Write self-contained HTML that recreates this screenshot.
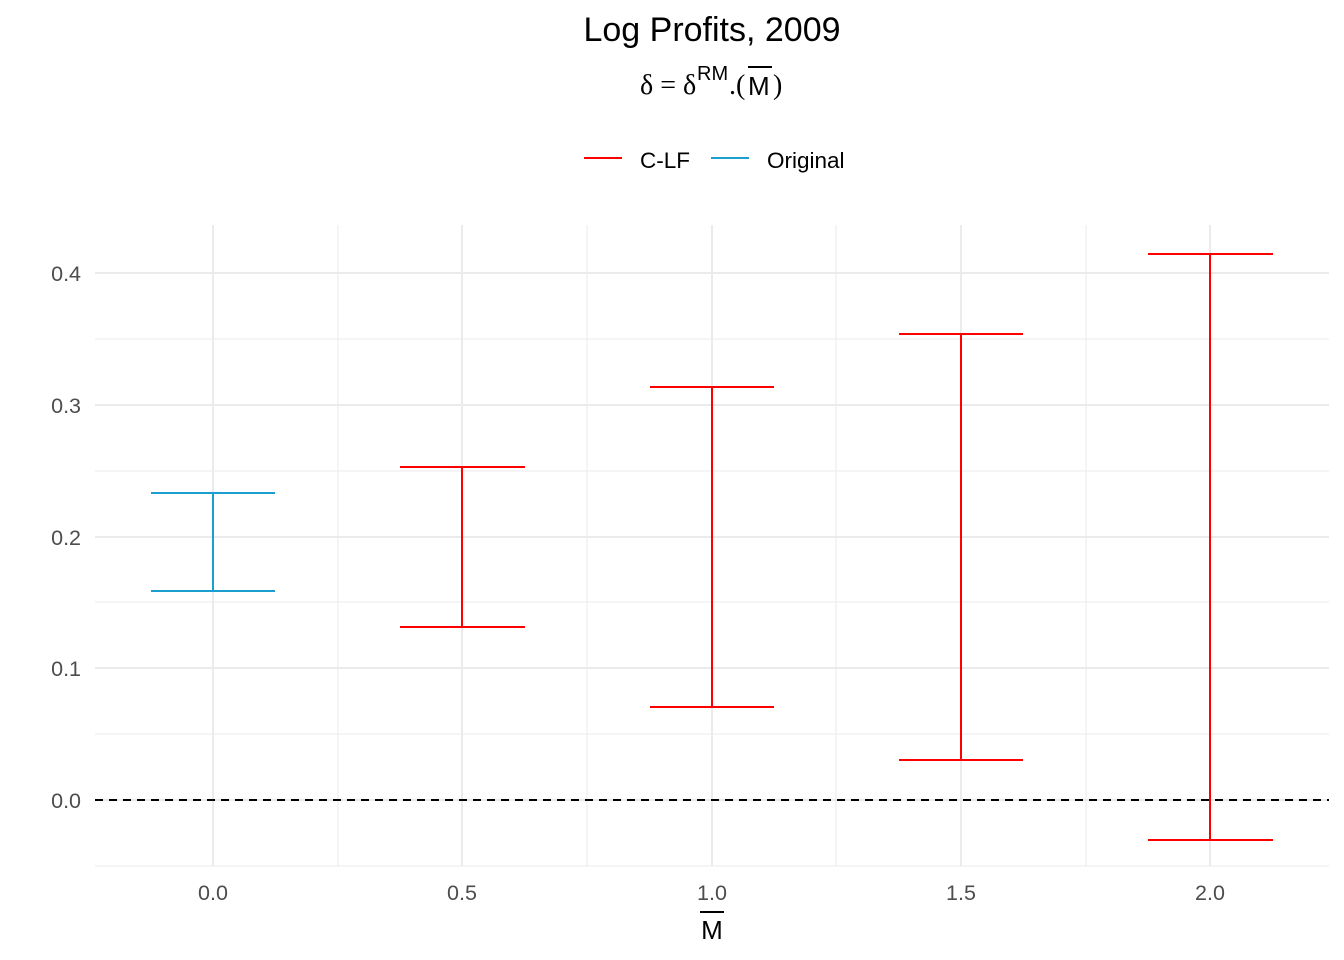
<!DOCTYPE html>
<html><head><meta charset="utf-8"><style>body{margin:0;background:#fff}svg{display:block}</style></head><body>
<svg width="1344" height="960" xmlns="http://www.w3.org/2000/svg" font-family="Liberation Sans, sans-serif">
<rect width="1344" height="960" fill="#fff"/>
<g stroke="#ebebeb" stroke-width="1">
<line x1="95" x2="1329" y1="866" y2="866"/><line x1="95" x2="1329" y1="734" y2="734"/><line x1="95" x2="1329" y1="602" y2="602"/><line x1="95" x2="1329" y1="471" y2="471"/><line x1="95" x2="1329" y1="339" y2="339"/>
<line x1="338" x2="338" y1="225" y2="866"/><line x1="587" x2="587" y1="225" y2="866"/><line x1="836" x2="836" y1="225" y2="866"/><line x1="1086" x2="1086" y1="225" y2="866"/>
</g>
<g stroke="#ebebeb" stroke-width="2">
<line x1="95" x2="1329" y1="800" y2="800"/><line x1="95" x2="1329" y1="668" y2="668"/><line x1="95" x2="1329" y1="537" y2="537"/><line x1="95" x2="1329" y1="405" y2="405"/><line x1="95" x2="1329" y1="273" y2="273"/>
<line x1="213" x2="213" y1="225" y2="866"/><line x1="462" x2="462" y1="225" y2="866"/><line x1="712" x2="712" y1="225" y2="866"/><line x1="961" x2="961" y1="225" y2="866"/><line x1="1210" x2="1210" y1="225" y2="866"/>
</g>
<line x1="95" x2="1329" y1="800" y2="800" stroke="#000" stroke-width="2" stroke-dasharray="8,6"/>
<g fill="none" stroke-width="2">
<path stroke="#1a9fd0" d="M151 493H275M151 591H275M213 493V591"/>
<path stroke="#f00" d="M400 467H525M400 627H525M462 467V627"/>
<path stroke="#f00" d="M650 387H774M650 707H774M712 387V707"/>
<path stroke="#f00" d="M899 334H1023M899 760H1023M961 334V760"/>
<path stroke="#f00" d="M1148 254H1273M1148 840H1273M1210 254V840"/>
</g>
<g fill="#4d4d4d" font-size="21.5" text-anchor="end">
<text x="81" y="808">0.0</text><text x="81" y="676">0.1</text><text x="81" y="545">0.2</text><text x="81" y="413">0.3</text><text x="81" y="281">0.4</text>
</g>
<g fill="#4d4d4d" font-size="21.5" text-anchor="middle">
<text x="213" y="900">0.0</text><text x="462" y="900">0.5</text><text x="712" y="900">1.0</text><text x="961" y="900">1.5</text><text x="1210" y="900">2.0</text>
</g>
<text x="712" y="939" font-size="26" text-anchor="middle">M</text>
<line x1="700" x2="724" y1="912" y2="912" stroke="#000" stroke-width="2"/>
<text x="712" y="41" font-size="34" text-anchor="middle">Log Profits, 2009</text>
<text x="640" y="94" font-size="28" font-family="Liberation Serif, serif">δ = δ</text>
<text x="697" y="80" font-size="20">RM</text>
<text x="729" y="94" font-size="28" font-family="Liberation Serif, serif">.(</text>
<text x="748" y="95" font-size="26">M</text>
<line x1="748" x2="772" y1="67" y2="67" stroke="#000" stroke-width="2"/>
<text x="773" y="94" font-size="28" font-family="Liberation Serif, serif">)</text>
<line x1="584" x2="622" y1="158" y2="158" stroke="#f00" stroke-width="2"/>
<text x="640" y="168" font-size="22.5">C-LF</text>
<line x1="711" x2="749" y1="158" y2="158" stroke="#1a9fd0" stroke-width="2"/>
<text x="767" y="168" font-size="22.5">Original</text>
</svg>
</body></html>
